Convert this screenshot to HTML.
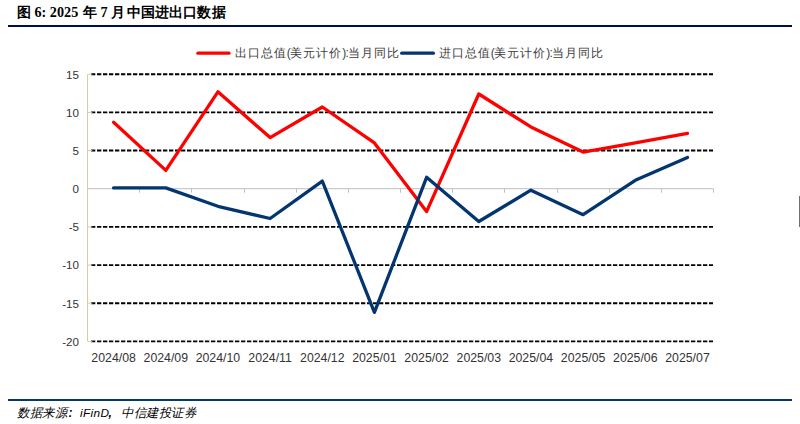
<!DOCTYPE html>
<html><head><meta charset="utf-8">
<style>
html,body{margin:0;padding:0;background:#fff;}
body{width:800px;height:424px;position:relative;overflow:hidden;font-family:"Liberation Sans",sans-serif;}
.title{position:absolute;left:17px;top:4px;font-size:14px;font-weight:bold;color:#000;white-space:nowrap;}
.title .s{font-family:"Liberation Serif",serif;font-size:14.2px;}
.rule1{position:absolute;left:8px;top:25px;width:784px;height:2px;background:#000f4c;}
.rule2{position:absolute;left:8px;top:399px;width:784px;height:2px;background:#003b70;}
.src{position:absolute;top:404px;font-size:12.5px;font-style:italic;color:#000;white-space:nowrap;}
.bar{position:absolute;left:799px;top:196px;width:1px;height:31px;background:#707070;}
svg{position:absolute;left:0;top:0;}
.g{stroke:#000;stroke-width:1.9;stroke-dasharray:4.3 1.7;}
.t{stroke:#d6cfa6;stroke-width:1;}
.z{stroke:#bfbfbf;stroke-width:1;}
.lab text{font-size:11.6px;fill:#333;}
.xl text{font-size:12.3px;fill:#333;}
.leg{position:absolute;top:45px;font-size:12px;letter-spacing:0.95px;color:#404040;white-space:nowrap;}
.leg i{font-style:normal;letter-spacing:-0.5px;}
</style></head><body>
<svg width="800" height="30" style="position:absolute;left:0;top:0">
<g font-family="Liberation Sans, sans-serif" font-weight="bold" fill="#000" font-size="14">
<text x="17" y="16.6">图</text>
<text x="34.5" y="16.6" font-family="Liberation Serif, serif" font-size="14.2">6: 2025</text>
<text x="83" y="16.6">年</text>
<text x="100.5" y="16.6" font-family="Liberation Serif, serif" font-size="14.2">7</text>
<text x="111" y="16.6">月</text>
<text x="126.5" y="16.6" letter-spacing="0.2">中国进出口数据</text>
</g></svg>
<div class="rule1"></div>
<svg width="800" height="424" viewBox="0 0 800 424">
<line x1="91" y1="74.2" x2="713" y2="74.2" class="g"/>
<line x1="88" y1="74.2" x2="92.3" y2="74.2" class="t"/>
<line x1="91" y1="112.4" x2="713" y2="112.4" class="g"/>
<line x1="88" y1="112.4" x2="92.3" y2="112.4" class="t"/>
<line x1="91" y1="150.5" x2="713" y2="150.5" class="g"/>
<line x1="88" y1="150.5" x2="92.3" y2="150.5" class="t"/>
<line x1="91" y1="226.9" x2="713" y2="226.9" class="g"/>
<line x1="88" y1="226.9" x2="92.3" y2="226.9" class="t"/>
<line x1="91" y1="265.1" x2="713" y2="265.1" class="g"/>
<line x1="88" y1="265.1" x2="92.3" y2="265.1" class="t"/>
<line x1="91" y1="303.2" x2="713" y2="303.2" class="g"/>
<line x1="88" y1="303.2" x2="92.3" y2="303.2" class="t"/>
<line x1="91" y1="341.4" x2="713" y2="341.4" class="g"/>
<line x1="88" y1="341.4" x2="92.3" y2="341.4" class="t"/>

<line x1="87.5" y1="74.2" x2="87.5" y2="341.4" stroke="#d6cfa6" stroke-width="1"/>
<line x1="88" y1="188.7" x2="713.5" y2="188.7" class="z"/>
<line x1="139.5" y1="188.7" x2="139.5" y2="192.7" class="z"/>
<line x1="191.5" y1="188.7" x2="191.5" y2="192.7" class="z"/>
<line x1="244.5" y1="188.7" x2="244.5" y2="192.7" class="z"/>
<line x1="296.5" y1="188.7" x2="296.5" y2="192.7" class="z"/>
<line x1="348.5" y1="188.7" x2="348.5" y2="192.7" class="z"/>
<line x1="400.5" y1="188.7" x2="400.5" y2="192.7" class="z"/>
<line x1="452.5" y1="188.7" x2="452.5" y2="192.7" class="z"/>
<line x1="504.5" y1="188.7" x2="504.5" y2="192.7" class="z"/>
<line x1="557.5" y1="188.7" x2="557.5" y2="192.7" class="z"/>
<line x1="609.5" y1="188.7" x2="609.5" y2="192.7" class="z"/>
<line x1="661.5" y1="188.7" x2="661.5" y2="192.7" class="z"/>
<line x1="713.5" y1="188.7" x2="713.5" y2="192.7" class="z"/>

<polyline points="113.6,122.3 165.8,170.4 217.9,91.8 270.1,137.6 322.3,107.0 374.4,142.9 426.6,211.6 478.8,94.0 530.9,126.9 583.1,152.1 635.3,142.9 687.5,133.4" fill="none" stroke="#ff0000" stroke-width="3.3" stroke-linejoin="round" stroke-linecap="round"/>
<polyline points="113.6,187.9 165.8,187.9 217.9,206.3 270.1,218.5 322.3,181.1 374.4,312.4 426.6,177.3 478.8,221.5 530.9,190.2 583.1,214.7 635.3,180.3 687.5,157.4" fill="none" stroke="#03366f" stroke-width="3.3" stroke-linejoin="round" stroke-linecap="round"/>
<g class="lab">
<text x="79" y="78.5" text-anchor="end">15</text>
<text x="79" y="116.7" text-anchor="end">10</text>
<text x="79" y="154.8" text-anchor="end">5</text>
<text x="79" y="193.0" text-anchor="end">0</text>
<text x="79" y="231.2" text-anchor="end">-5</text>
<text x="79" y="269.4" text-anchor="end">-10</text>
<text x="79" y="307.5" text-anchor="end">-15</text>
<text x="79" y="345.7" text-anchor="end">-20</text>

</g>
<g class="xl">
<text x="113.6" y="361.5" text-anchor="middle">2024/08</text>
<text x="165.8" y="361.5" text-anchor="middle">2024/09</text>
<text x="217.9" y="361.5" text-anchor="middle">2024/10</text>
<text x="270.1" y="361.5" text-anchor="middle">2024/11</text>
<text x="322.3" y="361.5" text-anchor="middle">2024/12</text>
<text x="374.4" y="361.5" text-anchor="middle">2025/01</text>
<text x="426.6" y="361.5" text-anchor="middle">2025/02</text>
<text x="478.8" y="361.5" text-anchor="middle">2025/03</text>
<text x="530.9" y="361.5" text-anchor="middle">2025/04</text>
<text x="583.1" y="361.5" text-anchor="middle">2025/05</text>
<text x="635.3" y="361.5" text-anchor="middle">2025/06</text>
<text x="687.5" y="361.5" text-anchor="middle">2025/07</text>

</g>
<line x1="197.9" y1="53.2" x2="229" y2="53.2" stroke="#ff0000" stroke-width="3.2" stroke-linecap="round"/>
<line x1="401.7" y1="53.2" x2="433.4" y2="53.2" stroke="#03366f" stroke-width="3.2" stroke-linecap="round"/>
</svg>
<div class="leg" style="left:235px">出口总值<i>(</i>美元计价<i>):</i>当月同比</div>
<div class="leg" style="left:439px">进口总值<i>(</i>美元计价<i>):</i>当月同比</div>
<div class="rule2"></div>
<svg width="800" height="424" style="position:absolute;left:0;top:0">
<g font-family="Liberation Sans, sans-serif" font-style="italic" fill="#000">
<text x="17" y="416.5" font-size="12.4" letter-spacing="0.55">数据来源</text>
<text x="68.5" y="417" font-size="12" font-weight="bold">:</text>
<text x="80" y="417.3" font-size="11.8" letter-spacing="0.35">iFinD</text>
<text x="108.5" y="417.3" font-size="12" font-weight="bold">,</text>
<text x="121" y="416.5" font-size="12.4" letter-spacing="0.55">中信建投证券</text>
</g></svg>
<div class="bar"></div>
</body></html>
